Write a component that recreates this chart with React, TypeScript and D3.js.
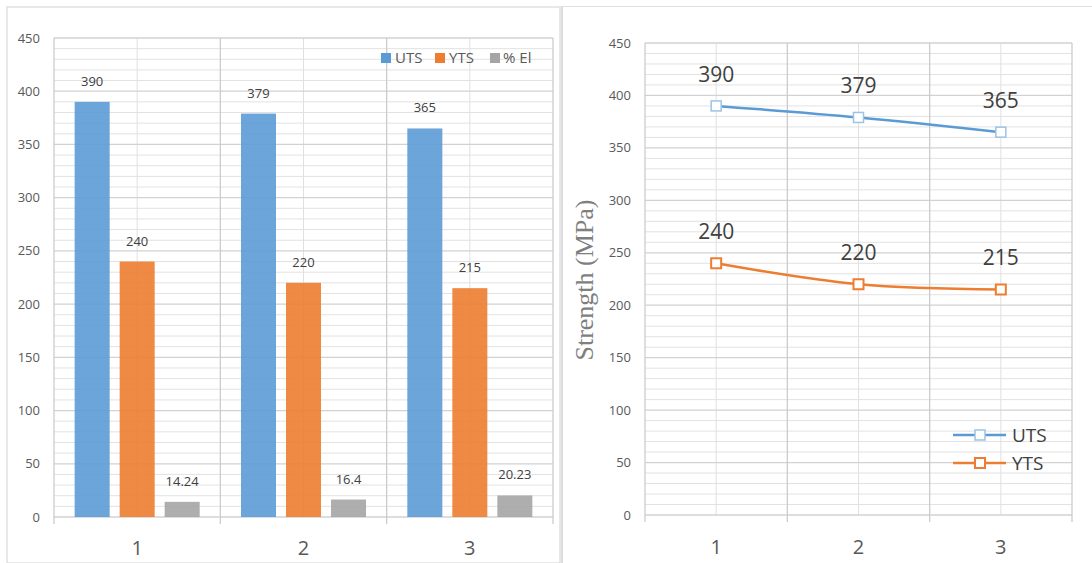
import React from "react";
import * as d3 from "d3";

// Mechanical properties for three samples
const categories = ["1", "2", "3"];
const barSeries = ["UTS", "YTS", "% El"];
const utsValues = [390, 379, 365];
const ytsValues = [240, 220, 215];
const elongValues = [14.24, 16.4, 20.23];
const elongLabels = ["14.24", "16.4", "20.23"];
const yTicks = [0, 50, 100, 150, 200, 250, 300, 350, 400, 450];

const BLUE = "#5B9BD5";
const ORANGE = "#ED7D31";
const GRAY = "#A5A5A5";
const TEXT = "#595959";
const LABEL = "#404040";
const FONT = "'Open Sans', 'Noto Sans', sans-serif";

const barColors = [BLUE, ORANGE, GRAY];
const barValues = [utsValues, ytsValues, elongValues];
const barLabelText = [utsValues.map(String), ytsValues.map(String), elongLabels];

function Grid({ x, y, x0, x1, y0, y1 }: any) {
  const minor = d3.range(0, 451, 10).filter((v) => v % 50 !== 0);
  const bw = x.bandwidth();
  const bounds = [...categories.map((c: string) => x(c)), x1];
  return (
    <g>
      {minor.map((v) => (
        <line key={"mi" + v} x1={x0} x2={x1} y1={y(v)} y2={y(v)} stroke="#e2e2e2" strokeWidth={1} />
      ))}
      {categories.map((c: string) => (
        <line key={"vc" + c} x1={x(c) + bw / 2} x2={x(c) + bw / 2} y1={y0} y2={y1} stroke="#e0e0e0" strokeWidth={1} />
      ))}
      {yTicks.map((v) => (
        <line key={"ma" + v} x1={x0} x2={x1} y1={y(v)} y2={y(v)} stroke="#d2d2d2" strokeWidth={1.3} />
      ))}
      {bounds.map((b: number, i: number) => (
        <line key={"vb" + i} x1={b} x2={b} y1={y1} y2={y0 + 7} stroke="#cccccc" strokeWidth={1.3} />
      ))}
    </g>
  );
}

function BarPanel() {
  const x0 = 54, x1 = 553, y0 = 517, y1 = 38;
  const x = d3.scaleBand<string>().domain(categories).range([x0, x1]).padding(0);
  const xs = d3
    .scaleBand<string>()
    .domain(barSeries)
    .range([0, x.bandwidth()])
    .paddingInner(0.222)
    .paddingOuter(0.459);
  const y = d3.scaleLinear().domain([0, 450]).range([y0, y1]);

  return (
    <g>
      <rect x={7} y={7} width={553} height={556} fill="none" stroke="#d9d9d9" strokeWidth={1.2} />
      <Grid x={x} y={y} x0={x0} x1={x1} y0={y0} y1={y1} />
      {yTicks.map((v) => (
        <text key={v} x={40} y={y(v)} dy="0.35em" textAnchor="end" fontSize={13} fill={TEXT} fontFamily={FONT}>
          {v}
        </text>
      ))}
      {barSeries.map((s, si) =>
        categories.map((c, ci) => {
          const v = barValues[si][ci];
          const bx = (x(c) as number) + (xs(s) as number);
          return (
            <g key={s + c}>
              <rect x={bx} y={y(v)} width={xs.bandwidth()} height={y0 - y(v)} fill={barColors[si]} fillOpacity={0.9} />
              <text
                x={bx + xs.bandwidth() / 2}
                y={y(v) - 16}
                textAnchor="middle"
                fontSize={13}
                fill={LABEL}
                fontFamily={FONT}
              >
                {barLabelText[si][ci]}
              </text>
            </g>
          );
        })
      )}
      {categories.map((c) => (
        <text
          key={"xl" + c}
          x={(x(c) as number) + x.bandwidth() / 2}
          y={555}
          textAnchor="middle"
          fontSize={20}
          fill={TEXT}
          fontFamily={FONT}
        >
          {c}
        </text>
      ))}
      {/* legend */}
      {[
        { name: "UTS", sx: 381, tx: 395 },
        { name: "YTS", sx: 435, tx: 449 },
        { name: "% El", sx: 490, tx: 503 },
      ].map((l, i) => (
        <g key={l.name}>
          <rect x={l.sx} y={53} width={10} height={10} fill={barColors[i]} />
          <text x={l.tx} y={58} dy="0.35em" fontSize={15} fill={TEXT} fontFamily={FONT}>
            {l.name}
          </text>
        </g>
      ))}
    </g>
  );
}

function LinePanel() {
  const x0 = 645, x1 = 1072, y0 = 515, y1 = 43;
  const x = d3.scaleBand<string>().domain(categories).range([x0, x1]).padding(0);
  const y = d3.scaleLinear().domain([0, 450]).range([y0, y1]);
  const cx = (c: string) => (x(c) as number) + x.bandwidth() / 2;
  const line = d3
    .line<number>()
    .x((_, i) => cx(categories[i]))
    .y((d) => y(d))
    .curve(d3.curveCatmullRom.alpha(0.5));

  const series = [
    { name: "UTS", values: utsValues, color: BLUE, marker: "#9DC3E6", mw: 1.5, ly: 435 },
    { name: "YTS", values: ytsValues, color: ORANGE, marker: ORANGE, mw: 2, ly: 463 },
  ];

  return (
    <g>
      <line x1={562} x2={562} y1={6} y2={563} stroke="#d0d0d0" strokeWidth={1.5} />
      <line x1={562} x2={1092} y1={6.5} y2={6.5} stroke="#e0e0e0" strokeWidth={1.2} />
      <Grid x={x} y={y} x0={x0} x1={x1} y0={y0} y1={y1} />
      {yTicks.map((v) => (
        <text key={v} x={631} y={y(v)} dy="0.35em" textAnchor="end" fontSize={13} fill={TEXT} fontFamily={FONT}>
          {v}
        </text>
      ))}
      <text
        transform="translate(593,280) rotate(-90)"
        textAnchor="middle"
        fontSize={26}
        fill="#7f7f7f"
        fontFamily="'Liberation Serif', 'DejaVu Serif', serif"
      >
        Strength (MPa)
      </text>
      {series.map((s) => (
        <g key={s.name}>
          <path d={line(s.values) as string} fill="none" stroke={s.color} strokeWidth={2.5} />
          {s.values.map((v, i) => (
            <g key={i}>
              <rect
                x={cx(categories[i]) - 5}
                y={y(v) - 5}
                width={10}
                height={10}
                fill="#ffffff"
                stroke={s.marker}
                strokeWidth={s.mw}
              />
              <text x={cx(categories[i])} y={y(v) - 24} textAnchor="middle" fontSize={21} fill={LABEL} fontFamily={FONT}>
                {v}
              </text>
            </g>
          ))}
          <line x1={953} x2={1006} y1={s.ly} y2={s.ly} stroke={s.color} strokeWidth={2.5} />
          <rect x={975} y={s.ly - 5} width={10} height={10} fill="#ffffff" stroke={s.marker} strokeWidth={s.mw} />
          <text x={1012} y={s.ly} dy="0.35em" fontSize={19} fill={LABEL} fontFamily={FONT}>
            {s.name}
          </text>
        </g>
      ))}
      {categories.map((c) => (
        <text key={"xl" + c} x={cx(c)} y={554} textAnchor="middle" fontSize={20} fill={TEXT} fontFamily={FONT}>
          {c}
        </text>
      ))}
    </g>
  );
}

export default function App() {
  return (
    <svg
      width={1092}
      height={563}
      viewBox="0 0 1092 563"
      style={{ position: "absolute", left: 0, top: 0, background: "#ffffff" }}
    >
      <BarPanel />
      <LinePanel />
    </svg>
  );
}
